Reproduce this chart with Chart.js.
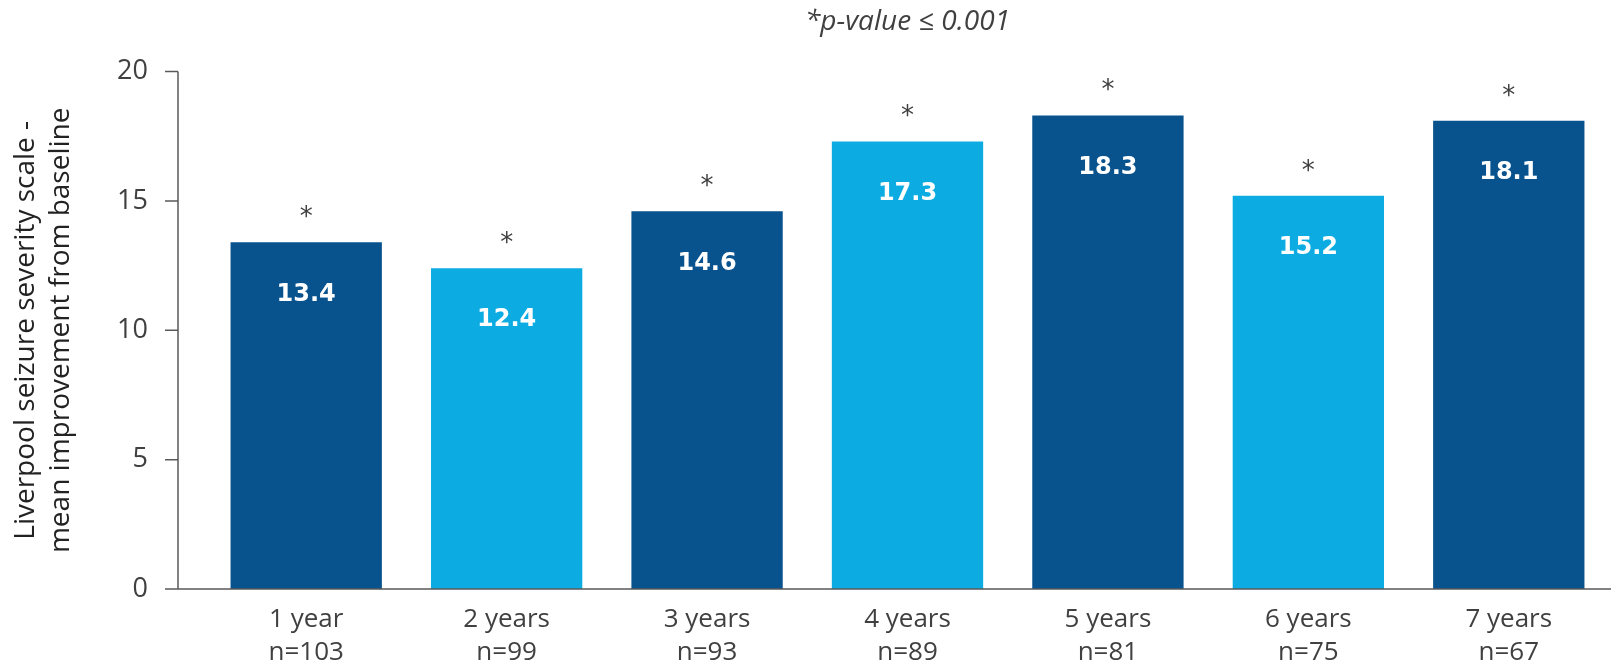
<!DOCTYPE html>
<html>
<head>
<meta charset="utf-8">
<script src="https://cdn.jsdelivr.net/npm/chart.js@4.4.1/dist/chart.umd.min.js"></script>
<style>
  html, body { margin: 0; padding: 0; background: #fff; }
  #wrap { width: 1619px; height: 670px; position: relative; }
</style>
</head>
<body>
<div id="wrap"><canvas id="chart"></canvas></div>
<script>
// Data
const periods = ['1 year', '2 years', '3 years', '4 years', '5 years', '6 years', '7 years'];
const patientCounts = [103, 99, 93, 89, 81, 75, 67];
const improvement = [13.4, 12.4, 14.6, 17.3, 18.3, 15.2, 18.1];
const significant = [true, true, true, true, true, true, true];
const yTicks = [0, 5, 10, 15, 20];

const DARK = '#08528d';
const LIGHT = '#0cace2';
const barColors = [DARK, LIGHT, DARK, LIGHT, DARK, LIGHT, DARK];
const AXIS = '#5a5a5a';
const TEXT = '#404040';
const FONT = "'Open Sans', Lato, sans-serif";

const labels = periods.map((p, i) => [p, 'n=' + patientCounts[i]]);

// y axis sits a bit left of the first category, so it's drawn by hand
const axisLines = {
    id: 'axisLines',
    afterDraw(chart) {
        const { ctx, chartArea, scales } = chart;
        const axisX = chartArea.left - 28;
        const y0 = scales.y.getPixelForValue(0);
        const yTop = scales.y.getPixelForValue(20);
        ctx.save();
        ctx.strokeStyle = AXIS;
        ctx.lineWidth = 1.5;
        ctx.beginPath();
        ctx.moveTo(axisX, yTop);
        ctx.lineTo(axisX, y0);
        yTicks.forEach(v => {
            const y = scales.y.getPixelForValue(v);
            ctx.moveTo(axisX - 13, y);
            ctx.lineTo(axisX, y);
        });
        ctx.moveTo(axisX, y0);
        ctx.lineTo(chartArea.right + 2, y0);
        ctx.stroke();
        ctx.restore();
    }
};

const barLabels = {
    id: 'barLabels',
    afterDatasetsDraw(chart) {
        const { ctx } = chart;
        const meta = chart.getDatasetMeta(0);
        ctx.save();
        ctx.textAlign = 'center';
        ctx.textBaseline = 'middle';
        meta.data.forEach((bar, i) => {
            ctx.fillStyle = '#ffffff';
            ctx.font = "bold 24px 'DejaVu Sans', sans-serif";
            ctx.fillText(improvement[i].toFixed(1), bar.x, bar.y + 52);
            if (significant[i]) {
                ctx.fillStyle = TEXT;
                ctx.font = "26px 'DejaVu Sans', sans-serif";
                ctx.fillText('*', bar.x, bar.y - 24);
            }
        });
        ctx.restore();
    }
};

new Chart(document.getElementById('chart'), {
    type: 'bar',
    data: {
        labels: labels,
        datasets: [{
            data: improvement,
            backgroundColor: barColors,
            borderWidth: 0,
            categoryPercentage: 1.0,
            barPercentage: 0.755
        }]
    },
    options: {
        responsive: true,
        maintainAspectRatio: false,
        animation: false,
        layout: { padding: { left: 0, right: 10, top: 0, bottom: 0 } },
        plugins: {
            legend: { display: false },
            tooltip: { enabled: false },
            title: {
                display: true,
                fullSize: false,
                text: '*p-value \u2264 0.001',
                color: TEXT,
                font: { family: FONT, size: 28, style: 'italic', weight: 'normal', lineHeight: 1.2 },
                padding: { top: 5, bottom: 33 }
            }
        },
        scales: {
            x: {
                grid: { display: false, drawTicks: false },
                border: { display: false },
                ticks: {
                    color: TEXT,
                    font: { family: FONT, size: 26, lineHeight: 1.27 },
                    padding: 14,
                    maxRotation: 0,
                    autoSkip: false
                },
                afterFit(scale) { scale.height = 81; }
            },
            y: {
                min: 0,
                max: 20,
                grid: { display: false, drawTicks: false },
                border: { display: false },
                ticks: {
                    stepSize: 5,
                    color: TEXT,
                    font: { family: FONT, size: 27 },
                    padding: 58
                },
                title: {
                    display: true,
                    text: ['Liverpool seizure severity scale -', 'mean improvement from baseline'],
                    color: '#222',
                    font: { family: FONT, size: 28, lineHeight: 1.25 },
                    padding: { top: 9, bottom: 0 }
                },
                afterFit(scale) {
                    scale.width = 206;
                    // the title block already leaves room for the top tick label
                    scale.paddingTop = 0;
                    scale.paddingBottom = 0;
                }
            }
        }
    },
    plugins: [axisLines, barLabels]
});
</script>
</body>
</html>
